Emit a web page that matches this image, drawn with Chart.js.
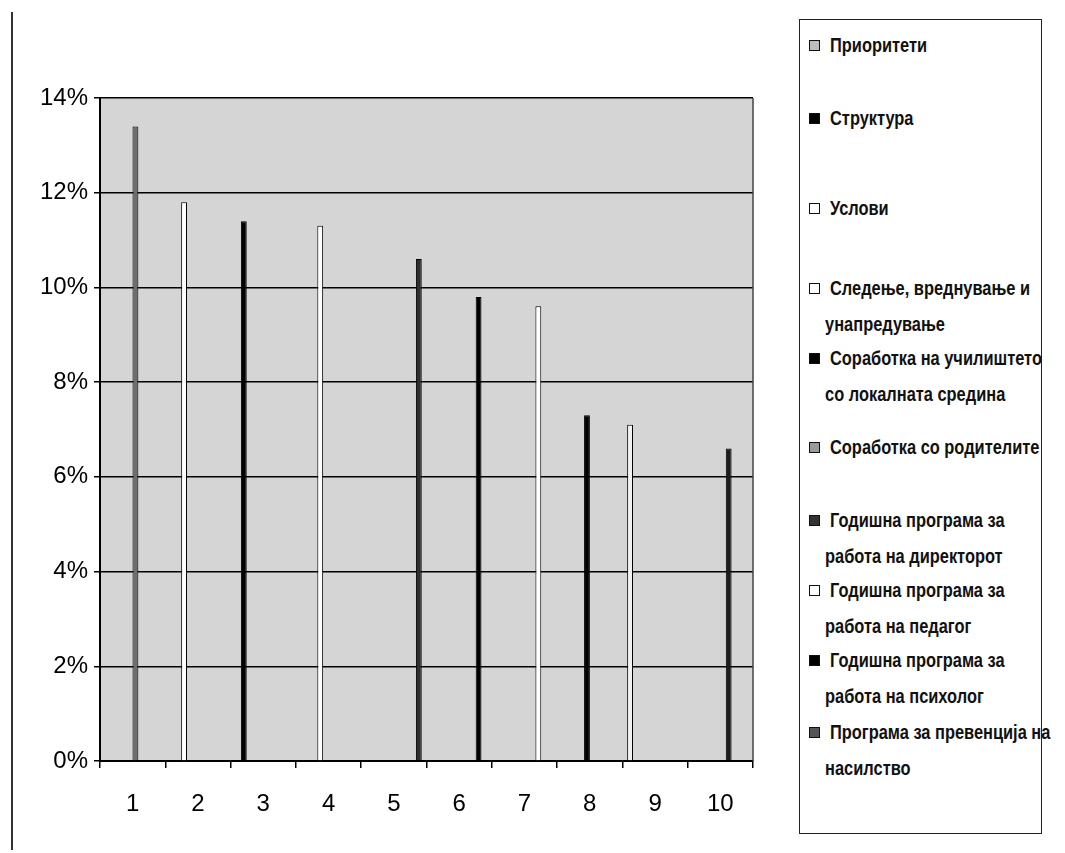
<!DOCTYPE html>
<html>
<head>
<meta charset="utf-8">
<script src="https://cdn.jsdelivr.net/npm/chart.js@4"></script>
<style>
  body { margin: 0; background: #fff; width: 1065px; height: 853px; position: relative; overflow: hidden;
         font-family: "Liberation Sans", Arial, sans-serif; }
  #frame { position: absolute; left: 11px; top: 12px; width: 2px; height: 838px; background: #333; }
  #wrap { position: absolute; left: 0; top: 0; width: 775px; height: 853px; }
  #legend { position: absolute; left: 799px; top: 19px; width: 243px; height: 815px;
            border: 1.5px solid #222; box-sizing: border-box; }
  .item { position: absolute; left: 0; width: 240px; font-weight: bold; font-size: 20px;
          line-height: 36px; color: #111; }
  .mark { position: absolute; left: 9px; top: 13px; width: 9px; height: 9px; border: 1px solid #111; }
  .txt { position: absolute; left: 30px; white-space: nowrap; transform: scaleX(0.82); transform-origin: 0 0; }
  .txt div + div { margin-left: -6px; }
</style>
</head>
<body>
<div id="frame"></div>
<div id="wrap"><canvas id="grafik"></canvas></div>
<div id="legend"></div>
<script>
// --- PODATOCI ---
const kategorii = ['1', '2', '3', '4', '5', '6', '7', '8', '9', '10'];

// iminja na seriite (redovi za legendata)
const serijaRedovi = [
    ['Приоритети'],
    ['Структура'],
    ['Услови'],
    ['Следење, вреднување и', 'унапредување'],
    ['Соработка на училиштето', 'со локалната средина'],
    ['Соработка со родителите'],
    ['Годишна програма за', 'работа на директорот'],
    ['Годишна програма за', 'работа на педагог'],
    ['Годишна програма за', 'работа на психолог'],
    ['Програма за превенција на', 'насилство']
];
const serijaIminja = serijaRedovi.map(r => r.join(' '));

// vo koja kategorija stoi stolbot na sekoja serija i negovata vrednost (%)
const serijaKategorija = [9, 3, 2, 4, 8, 1, 10, 7, 6, 5];
const serijaVrednosti = [7.1, 11.4, 11.8, 11.3, 7.3, 13.4, 6.6, 9.6, 9.8, 10.6];

const yOznaki = [0, 2, 4, 6, 8, 10, 12, 14];

// --- STIL ---
const boiPolnenje = ['#f2f2f2', '#000', '#fff', '#fff', '#000', '#6e6e6e', '#1c1c1c', '#fff', '#000', '#2e2e2e'];
const boiLegenda = ['#bdbdbd', '#000', '#fff', '#fff', '#000', '#9a9a9a', '#333', '#fff', '#000', '#555'];
const legendaGore = [7, 80, 170, 250, 320, 409, 482, 552, 622, 694];

const fontTick = { family: '"Liberation Sans", Arial, sans-serif', size: 24 };

const datasets = serijaIminja.map((ime, i) => ({
    label: ime,
    data: kategorii.map((k, j) => (j + 1 === serijaKategorija[i] ? serijaVrednosti[i] : null)),
    backgroundColor: boiPolnenje[i],
    borderColor: '#000',
    borderWidth: 1,
    categoryPercentage: 0.85,
    barPercentage: 1.05
}));

// siva pozadina na oblasta za crtanje
const pozadina = {
    id: 'pozadina',
    beforeDraw(chart) {
        const { ctx, chartArea: a } = chart;
        ctx.save();
        ctx.fillStyle = '#d5d5d5';
        ctx.fillRect(a.left, a.top, a.right - a.left, a.bottom - a.top);
        ctx.restore();
    },
    afterDraw(chart) {
        const { ctx, chartArea: a } = chart;
        ctx.save();
        ctx.strokeStyle = '#444';
        ctx.lineWidth = 1.5;
        ctx.beginPath();
        ctx.moveTo(a.right, a.top);
        ctx.lineTo(a.right, a.bottom);
        ctx.stroke();
        ctx.restore();
    }
};

new Chart(document.getElementById('grafik'), {
    type: 'bar',
    data: { labels: kategorii, datasets: datasets },
    options: {
        responsive: true,
        maintainAspectRatio: false,
        animation: false,
        layout: { padding: { top: 98, right: 22, left: 0, bottom: 0 } },
        plugins: { legend: { display: false }, tooltip: { enabled: false } },
        scales: {
            x: {
                afterFit: s => { s.height = 92; },
                grid: { drawOnChartArea: false, drawTicks: true, tickLength: 7, color: '#000', lineWidth: 1.5 },
                border: { color: '#000', width: 2 },
                ticks: { color: '#000', font: fontTick, padding: 22 }
            },
            y: {
                min: 0,
                max: 14,
                afterFit: s => { s.width = 100; },
                afterBuildTicks: s => { s.ticks = yOznaki.map(v => ({ value: v })); },
                grid: { color: '#000', lineWidth: 1.5, tickLength: 6 },
                border: { color: '#000', width: 2 },
                ticks: { color: '#000', font: fontTick, padding: 6, callback: v => v + '%' }
            }
        }
    },
    plugins: [pozadina]
});

// --- LEGENDA (HTML) ---
const leg = document.getElementById('legend');
serijaRedovi.forEach((redovi, i) => {
    const el = document.createElement('div');
    el.className = 'item';
    el.style.top = legendaGore[i] + 'px';
    el.innerHTML = '<div class="mark" style="background:' + boiLegenda[i] + '"></div>' +
        '<div class="txt">' + redovi.map(r => '<div>' + r + '</div>').join('') + '</div>';
    leg.appendChild(el);
});
</script>
</body>
</html>
